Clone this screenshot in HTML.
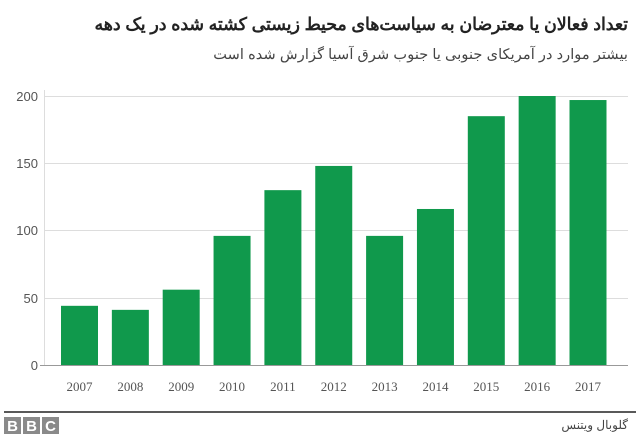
<!DOCTYPE html>
<html><head><meta charset="utf-8"><style>
body{margin:0;width:640px;height:444px;background:#fff;position:relative;overflow:hidden;font-family:"Liberation Sans","Noto Sans CJK SC",sans-serif}
.t{position:absolute;right:12px;direction:rtl;white-space:nowrap}
</style></head><body>
<div class="t" style="top:14px;font-size:17.3px;font-weight:bold;color:#222">تعداد فعالان یا معترضان به سیاست‌های محیط زیستی کشته شده در یک دهه</div>
<div class="t" style="top:46px;font-size:14.7px;color:#444">بیشتر موارد در آمریکای جنوبی یا جنوب شرق آسیا گزارش شده است</div>
<div class="t" style="top:418px;font-size:12px;color:#444">گلوبال ویتنس</div>
<svg width="640" height="444" style="position:absolute;left:0;top:0">
<g stroke="#ddd" stroke-width="1">
<line x1="44" y1="96.5" x2="628" y2="96.5"/><line x1="44" y1="163.5" x2="628" y2="163.5"/>
<line x1="44" y1="230.5" x2="628" y2="230.5"/><line x1="44" y1="298.5" x2="628" y2="298.5"/>
<line x1="44.5" y1="90" x2="44.5" y2="365"/>
</g>
<line x1="40" y1="365.5" x2="628" y2="365.5" stroke="#999"/>
<g font-size="13" fill="#555" text-anchor="end" font-family="Liberation Sans">
<text x="38" y="101">200</text><text x="38" y="168">150</text><text x="38" y="235">100</text><text x="38" y="303">50</text><text x="38" y="370">0</text>
</g>
<g fill="#10994c" id="b"></g>
<g font-size="13" fill="#555" text-anchor="middle" font-family="Liberation Serif" id="l"></g>
<line x1="4" y1="412" x2="636" y2="412" stroke="#222" stroke-width="1.5"/>
<g fill="#8a8a8a"><rect x="4" y="417" width="17" height="17"/><rect x="23" y="417" width="17" height="17"/><rect x="42" y="417" width="17" height="17"/></g>
<g fill="#fff" font-size="15" font-weight="bold" text-anchor="middle"><text x="12.5" y="431">B</text><text x="31.5" y="431">B</text><text x="50.5" y="431">C</text></g>
</svg>
<script>
var v=[44,41,56,96,130,148,96,116,185,200,197],s="",t="";
for(var i=0;i<11;i++){var c=79.5+i*50.85,h=v[i]*1.345;
s+='<rect x="'+(c-18.5)+'" y="'+(365-h)+'" width="37" height="'+h+'"/>';
t+='<text x="'+c+'" y="391">'+(2007+i)+'</text>';}
document.getElementById('b').innerHTML=s;document.getElementById('l').innerHTML=t;
</script>
</body></html>
